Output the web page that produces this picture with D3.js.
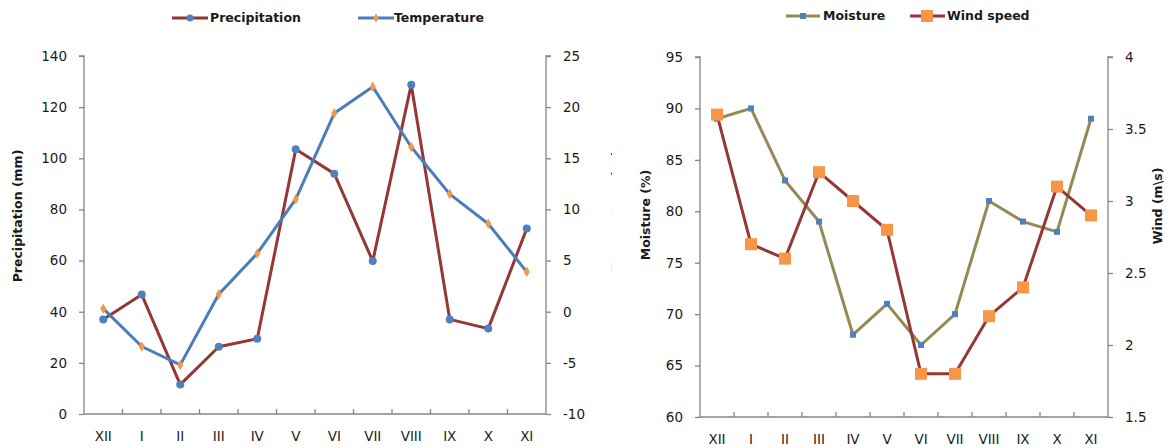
<!DOCTYPE html>
<html><head><meta charset="utf-8">
<script src="https://cdn.jsdelivr.net/npm/d3@7"></script>
<style>body{margin:0;background:#fff}svg{display:block;font-family:"DejaVu Sans",sans-serif}</style>
</head><body><svg id="c" width="1170" height="448"></svg>
<script>
const months = ["XII","I","II","III","IV","V","VI","VII","VIII","IX","X","XI"];
const precipitation = [37, 46.7, 11.5, 26.3, 29.4, 103.5, 94, 59.8, 128.8, 37, 33.4, 72.5];
const temperature = [0.3, -3.4, -5.2, 1.7, 5.7, 11.0, 19.4, 22.0, 16.1, 11.5, 8.6, 3.9];
const moisture = [89, 90, 83, 79, 68, 71, 67, 70, 81, 79, 78, 89];
const windSpeed = [3.6, 2.7, 2.6, 3.2, 3.0, 2.8, 1.8, 1.8, 2.2, 2.4, 3.1, 2.9];
const precipTicks = [0,20,40,60,80,100,120,140];
const tempTicks = [-10,-5,0,5,10,15,20,25];
const moistTicks = [60,65,70,75,80,85,90,95];
const windTicks = [1.5,2,2.5,3,3.5,4];

const svg = d3.select("#c");
const AX = "#868686", TXT = "#1a1a1a";
const RED = "#953735", BLUE = "#4A7EBB", MBLUE = "#4F81BD", ORANGE = "#F79646", OLIVE = "#948A54";
const plain = d => String(d);

function axes(g, x, yL, yR, ticksL, ticksR, top, bottom, left, right, xlabY) {
  const gl = g.append("g").attr("transform", `translate(${left},0)`)
    .call(d3.axisLeft(yL).tickValues(ticksL).tickSize(5).tickPadding(12).tickFormat(plain));
  const gr = g.append("g").attr("transform", `translate(${right},0)`)
    .call(d3.axisRight(yR).tickValues(ticksR).tickSize(5).tickPadding(12).tickFormat(plain));
  [gl, gr].forEach(a => {
    a.select(".domain").attr("stroke", AX).attr("stroke-width", 1.3);
    a.selectAll(".tick line").attr("stroke", AX).attr("stroke-width", 1.3);
    a.selectAll("text").attr("fill", TXT).style("font-size", "13.5px").attr("font-family", "DejaVu Sans");
  });
  gl.select(".domain").attr("d", `M-5,${top}H0V${bottom}`);
  gr.select(".domain").attr("d", `M5,${top}H0V${bottom}`);
  g.append("line").attr("x1", left).attr("x2", right).attr("y1", bottom).attr("y2", bottom)
    .attr("stroke", AX).attr("stroke-width", 1.3);
  const step = x.step();
  months.forEach((m, i) => {
    if (i > 0) g.append("line").attr("x1", x(m)).attr("x2", x(m)).attr("y1", bottom).attr("y2", bottom - 5)
      .attr("stroke", AX).attr("stroke-width", 1.3);
  });
  g.selectAll(null).data(months).enter().append("text")
    .attr("x", d => x(d) + step / 2).attr("y", xlabY).attr("text-anchor", "middle")
    .attr("dominant-baseline", "middle").attr("fill", TXT).style("font-size", "13.5px").text(d => d);
}

function line(g, x, y, data, color) {
  const step = x.step();
  g.append("path").datum(data)
    .attr("d", d3.line().x((d, i) => x(months[i]) + step / 2).y(d => y(d)))
    .attr("fill", "none").attr("stroke", color).attr("stroke-width", 3).attr("stroke-linejoin", "round");
}

// ---------- Left chart ----------
const L = svg.append("g");
const xL = d3.scaleBand().domain(months).range([84, 546]).paddingInner(0).paddingOuter(0);
const yP = d3.scaleLinear().domain([0, 140]).range([414, 56]);
const yT = d3.scaleLinear().domain([-10, 25]).range([414, 56]);
axes(L, xL, yP, yT, precipTicks, tempTicks, 56, 414, 84, 546, 437);
line(L, xL, yP, precipitation, RED);
line(L, xL, yT, temperature, BLUE);
L.selectAll(null).data(precipitation).enter().append("circle")
  .attr("cx", (d, i) => xL(months[i]) + xL.step() / 2).attr("cy", d => yP(d)).attr("r", 4).attr("fill", MBLUE);
L.selectAll(null).data(temperature).enter().append("path")
  .attr("d", d3.symbol(d3.symbolDiamond, 32))
  .attr("transform", (d, i) => `translate(${xL(months[i]) + xL.step() / 2},${yT(d)})`).attr("fill", ORANGE);
L.append("text").attr("transform", "translate(22,216) rotate(-90)").attr("text-anchor", "middle")
  .style("font-size", "12.5px").style("font-weight", "bold").attr("fill", TXT).text("Precipitation (mm)");
L.append("text").attr("transform", "translate(621,211) rotate(-90)").attr("text-anchor", "middle")
  .style("font-size", "12.5px").style("font-weight", "bold").attr("fill", TXT).text("Temperature (°C)");
// legend
L.append("line").attr("x1", 172).attr("x2", 208).attr("y1", 18).attr("y2", 18).attr("stroke", RED).attr("stroke-width", 3);
L.append("circle").attr("cx", 190).attr("cy", 18).attr("r", 3.5).attr("fill", MBLUE);
L.append("text").attr("x", 210).attr("y", 18).attr("dominant-baseline", "middle")
  .style("font-size", "12.5px").style("font-weight", "bold").attr("fill", TXT).text("Precipitation");
L.append("line").attr("x1", 358).attr("x2", 394).attr("y1", 18).attr("y2", 18).attr("stroke", BLUE).attr("stroke-width", 3);
L.append("path").attr("d", d3.symbol(d3.symbolDiamond, 24)).attr("transform", "translate(376,18)").attr("fill", ORANGE);
L.append("text").attr("x", 394).attr("y", 18).attr("dominant-baseline", "middle")
  .style("font-size", "12.5px").style("font-weight", "bold").attr("fill", TXT).text("Temperature");

// cover (right panel background)
svg.append("rect").attr("x", 612).attr("y", 0).attr("width", 558).attr("height", 448).attr("fill", "#fff");

// ---------- Right chart ----------
const R = svg.append("g");
const xR = d3.scaleBand().domain(months).range([700, 1108]).paddingInner(0).paddingOuter(0);
const yM = d3.scaleLinear().domain([60, 95]).range([417, 57]);
const yW = d3.scaleLinear().domain([1.5, 4]).range([417, 57]);
axes(R, xR, yM, yW, moistTicks, windTicks, 57, 417, 700, 1108, 440);
line(R, xR, yM, moisture, OLIVE);
line(R, xR, yW, windSpeed, RED);
R.selectAll(null).data(moisture).enter().append("rect")
  .attr("x", (d, i) => xR(months[i]) + xR.step() / 2 - 3).attr("y", d => yM(d) - 3)
  .attr("width", 6).attr("height", 6).attr("fill", MBLUE);
R.selectAll(null).data(windSpeed).enter().append("rect")
  .attr("x", (d, i) => xR(months[i]) + xR.step() / 2 - 6).attr("y", d => yW(d) - 6)
  .attr("width", 12).attr("height", 12).attr("fill", ORANGE);
R.append("text").attr("transform", "translate(650,215) rotate(-90)").attr("text-anchor", "middle")
  .style("font-size", "12.5px").style("font-weight", "bold").attr("fill", TXT).text("Moisture (%)");
R.append("text").attr("transform", "translate(1162,206) rotate(-90)").attr("text-anchor", "middle")
  .style("font-size", "12.5px").style("font-weight", "bold").attr("fill", TXT).text("Wind (m\\s)");
// legend
R.append("line").attr("x1", 786).attr("x2", 820).attr("y1", 16).attr("y2", 16).attr("stroke", OLIVE).attr("stroke-width", 3);
R.append("rect").attr("x", 800).attr("y", 13).attr("width", 6).attr("height", 6).attr("fill", MBLUE);
R.append("text").attr("x", 823).attr("y", 16).attr("dominant-baseline", "middle")
  .style("font-size", "12.5px").style("font-weight", "bold").attr("fill", TXT).text("Moisture");
R.append("line").attr("x1", 910).attr("x2", 945).attr("y1", 16).attr("y2", 16).attr("stroke", RED).attr("stroke-width", 3);
R.append("rect").attr("x", 921).attr("y", 10).attr("width", 12).attr("height", 12).attr("fill", ORANGE);
R.append("text").attr("x", 947).attr("y", 16).attr("dominant-baseline", "middle")
  .style("font-size", "12.5px").style("font-weight", "bold").attr("fill", TXT).text("Wind speed");
</script></body></html>
